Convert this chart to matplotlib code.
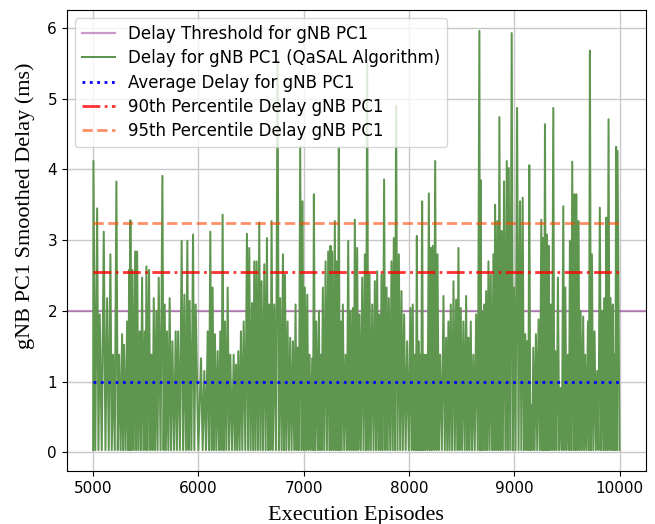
import numpy as np
import matplotlib
matplotlib.use('Agg')
import matplotlib.pyplot as plt

# peak delay (ms) at each episode; the trace drops back
# to the floor value between consecutive peaks
peak_episode = [
    5003, 5038, 5063, 5101, 5133, 5164, 5190, 5221, 5247, 5275, 5294, 5323,
    5342, 5354, 5373, 5399, 5418, 5443, 5465, 5490, 5506, 5531, 5554, 5576,
    5601, 5623, 5658, 5680, 5702, 5727, 5753, 5784, 5807, 5841, 5867, 5895,
    5917, 5949, 5974,
    6025, 6056, 6088, 6113, 6135, 6157, 6183, 6208, 6230, 6252, 6278, 6303,
    6335, 6357, 6379, 6404, 6430, 6461, 6483, 6509, 6531, 6553, 6578, 6600,
    6626, 6651, 6673, 6695, 6720, 6752, 6777, 6803, 6822, 6847, 6872, 6898,
    6923, 6942, 6967, 6989, 7011,
    7034, 7056, 7081, 7097, 7119, 7145, 7160, 7182, 7208, 7233, 7255, 7271,
    7296, 7312, 7334, 7350, 7372, 7398, 7423, 7445, 7467, 7486, 7508, 7530,
    7556, 7581, 7603, 7625, 7651, 7676, 7698, 7720, 7739, 7764, 7787, 7809,
    7834, 7856, 7878, 7904, 7929, 7954, 7983, 8014, 8036,
    8056, 8075, 8090, 8106, 8125, 8144, 8163, 8189, 8207, 8226, 8249, 8271,
    8296, 8328, 8353, 8375, 8397, 8423, 8448, 8470, 8492, 8517, 8543, 8565,
    8587, 8612, 8638, 8669, 8680, 8691, 8714, 8733, 8755, 8777, 8802, 8818,
    8840, 8859, 8881, 8903, 8929, 8948, 8976, 8998, 9027, 9055,
    9080, 9105, 9124, 9143, 9162, 9181, 9206, 9231, 9257, 9273, 9292, 9311,
    9326, 9345, 9371, 9390, 9415, 9440, 9466, 9485, 9510, 9529, 9551, 9573,
    9589, 9611, 9630, 9655, 9674, 9700, 9719, 9738, 9763, 9788, 9813, 9836,
    9858, 9874, 9896, 9915, 9937, 9953, 9968, 9981,
]
peak_delay = [
    4.12, 3.45, 1.95, 3.12, 2.18, 2.80, 1.38, 3.83, 1.38, 1.67, 1.52, 1.85,
    2.58, 3.28, 2.58, 2.84, 2.84, 1.71, 2.47, 1.71, 2.63, 2.58, 1.38, 2.18,
    2.00, 2.47, 3.91, 2.09, 1.71, 2.18, 1.57, 1.71, 1.71, 2.99, 2.23, 2.99,
    2.14, 3.08, 2.09,
    1.33, 1.15, 1.71, 3.12, 2.33, 1.67, 1.43, 1.71, 3.36, 1.85, 2.33, 1.38,
    1.38, 1.24, 1.43, 1.71, 1.85, 3.09, 2.89, 2.11, 2.70, 2.70, 3.25, 2.42,
    2.66, 3.03, 2.09, 3.27, 2.09, 5.55, 2.18, 2.80, 2.51, 1.85, 1.62, 1.57,
    2.09, 1.48, 4.33, 3.55, 2.33,
    2.23, 1.38, 1.33, 3.65, 1.85, 2.00, 1.38, 2.33, 2.70, 2.84, 2.92, 2.84,
    3.27, 2.70, 4.31, 1.85, 2.09, 1.38, 2.99, 2.00, 2.04, 3.29, 2.89, 1.95,
    2.47, 2.80, 5.55, 2.51, 2.09, 2.42, 2.56, 1.95, 2.51, 3.86, 2.33, 2.18,
    2.70, 3.03, 4.90, 2.80, 2.28, 1.95, 1.57, 2.04, 2.09,
    1.38, 3.06, 1.57, 1.38, 3.55, 1.38, 1.38, 3.66, 2.89, 2.92, 4.12, 2.80,
    1.38, 2.21, 1.62, 1.85, 2.09, 2.42, 2.16, 2.89, 2.04, 1.85, 2.21, 1.62,
    1.85, 1.38, 1.95, 5.96, 3.85, 2.00, 2.09, 2.28, 2.70, 2.51, 2.80, 3.50,
    3.27, 4.74, 3.13, 3.83, 4.12, 4.02, 5.93, 2.33, 4.87, 3.55,
    3.60, 1.67, 1.57, 4.06, 0.67, 1.48, 1.67, 1.88, 3.29, 3.03, 4.64, 3.08,
    2.92, 2.09, 4.87, 1.43, 2.47, 0.91, 3.48, 2.33, 1.38, 2.99, 4.11, 3.65,
    3.65, 3.27, 2.00, 1.92, 1.38, 1.85, 5.68, 2.80, 1.71, 1.15, 3.46, 2.00,
    2.18, 3.32, 4.71, 2.18, 2.09, 1.38, 4.32, 4.26,
]
floor_delay = 0.03
first_episode = 5000
last_episode = 10000

delay_threshold = 2.0
avg_delay = 0.99
p90_delay = 2.55
p95_delay = 3.24

# build the zig-zag trace: floor, peak, floor, peak, ...
pk_ep = np.array(peak_episode, dtype=float)
pk_val = np.array(peak_delay)
mid_ep = np.concatenate(([first_episode], (pk_ep[:-1] + pk_ep[1:]) / 2, [last_episode]))
episodes = np.empty(len(pk_ep) * 2 + 1)
delay = np.empty(len(pk_ep) * 2 + 1)
episodes[0::2] = mid_ep
episodes[1::2] = pk_ep
delay[0::2] = floor_delay
delay[1::2] = pk_val

fig, ax = plt.subplots(figsize=(6.55, 5.24), dpi=100)
fig.subplots_adjust(left=0.102, right=0.986, top=0.981, bottom=0.101)

ax.axhline(delay_threshold, color='purple', alpha=0.4, linewidth=1.6,
           label='Delay Threshold for gNB PC1')
ax.plot(episodes, delay, color='#5f964f', linewidth=1.45,
        label='Delay for gNB PC1 (QaSAL Algorithm)')
ax.plot([first_episode, last_episode], [avg_delay, avg_delay], color='blue',
        linestyle=':', linewidth=2, label='Average Delay for gNB PC1')
ax.plot([first_episode, last_episode], [p90_delay, p90_delay], color='red',
        alpha=0.8, linestyle='-.', linewidth=2, label='90th Percentile Delay gNB PC1')
ax.plot([first_episode, last_episode], [p95_delay, p95_delay], color='orangered',
        alpha=0.6, linestyle='--', linewidth=2, label='95th Percentile Delay gNB PC1')

ax.grid(True, color='#c8c8c8', linewidth=1)
ax.set_axisbelow(True)
ax.tick_params(labelsize=11)
ax.set_xlabel('Execution Episodes', fontsize=16, family='Liberation Serif', labelpad=7)
ax.set_ylabel('gNB PC1 Smoothed Delay (ms)', fontsize=16, family='Liberation Serif')
ax.yaxis.set_label_coords(-0.055, 0.575)
ax.set_xticks([5000, 6000, 7000, 8000, 9000, 10000])
ax.legend(loc='upper left', fontsize=12, labelspacing=0.38)

plt.savefig('out.png', dpi=100)
